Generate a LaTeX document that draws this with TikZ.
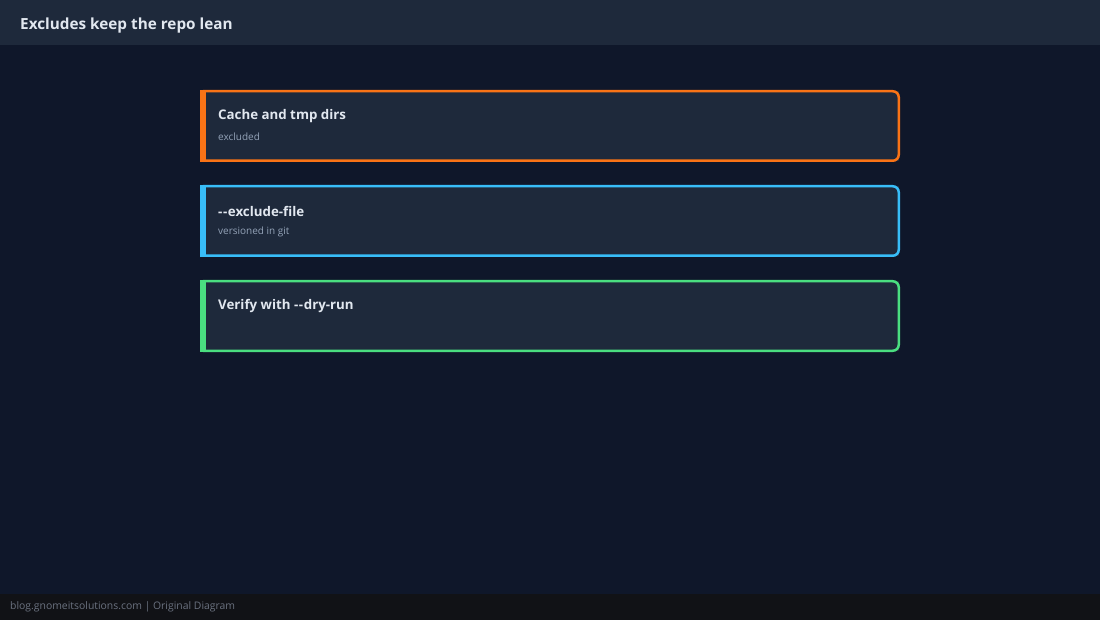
\documentclass[tikz,border=0pt]{standalone}
\usepackage{fontspec}
\setmainfont{Open Sans}
\definecolor{bg}{HTML}{0F172A}
\definecolor{panel}{HTML}{1E293B}
\definecolor{foot}{HTML}{111216}
\definecolor{titlec}{HTML}{E2E8F0}
\definecolor{subc}{HTML}{94A3B8}
\definecolor{footc}{HTML}{6B7280}
\definecolor{corange}{HTML}{F97316}
\definecolor{cblue}{HTML}{38BDF8}
\definecolor{cgreen}{HTML}{4ADE80}
\tikzset{
  cardtitle/.style={anchor=west,inner sep=0pt,text=titlec,font=\fontsize{13.3}{15}\selectfont\bfseries},
  cardsub/.style={anchor=west,inner sep=0pt,text=subc,font=\fontsize{10}{12}\selectfont},
}
\newcommand{\mycard}[5]{%
  % #1 name, #2 top y, #3 colour, #4 title, #5 subtitle
  \fill[panel] (201,#2+1) rectangle (899,#2+71);
  \draw[#3,line width=2.5pt,rounded corners=6pt] (203,#2+1.25) -- (898.75,#2+1.25) -- (898.75,#2+70.75) -- (203,#2+70.75);
  \fill[#3] (200,#2) rectangle (206,#2+72);
  \node[cardtitle] (#1t) at (218,#2+26.5) {#4};
  \node[cardsub] (#1s) at (218,#2+47) {#5};
}
\begin{document}
\begin{tikzpicture}[x=1pt,y=-1pt]
\useasboundingbox (0,0) rectangle (1100,620);
\fill[bg] (0,0) rectangle (1100,620);
\fill[panel] (0,0) rectangle (1100,45);
\fill[foot] (0,594) rectangle (1100,620);
\node[anchor=west,inner sep=0pt,text=titlec,font=\fontsize{15.3}{18}\selectfont\bfseries] (title) at (20,25.5) {Excludes keep the repo lean};
\mycard{a}{90}{corange}{Cache and tmp dirs}{excluded}
\mycard{b}{185}{cblue}{-\kern0.6pt-\kern0.6pt exclude-file}{versioned in git}
\mycard{c}{280}{cgreen}{Verify with -\kern0.6pt-\kern0.6pt dry-run}{}
\node[anchor=west,inner sep=0pt,text=footc,font=\fontsize{10.4}{12}\selectfont] (footer) at (10,607) {blog.gnomeitsolutions.com | Original Diagram};
\end{tikzpicture}
\end{document}
